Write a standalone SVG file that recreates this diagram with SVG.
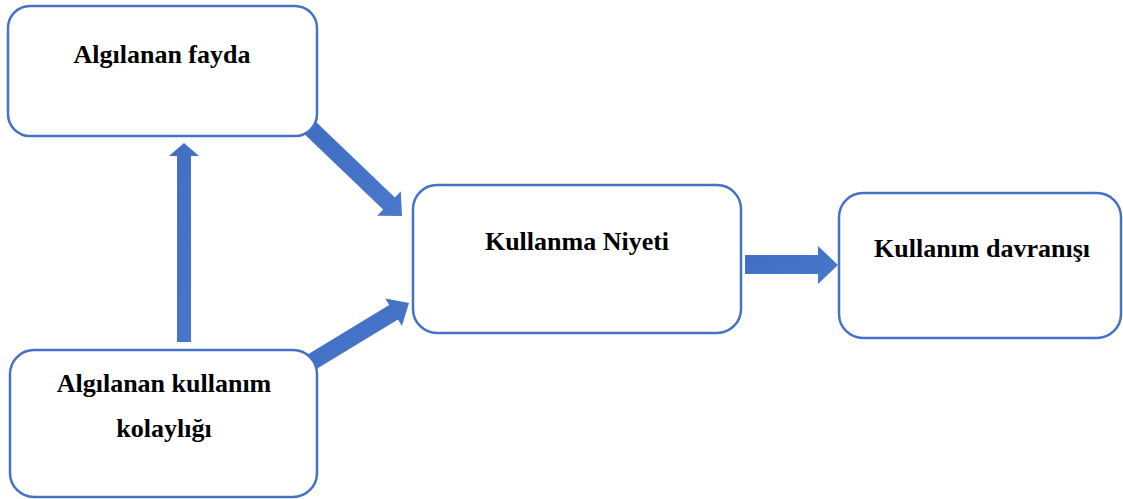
<svg xmlns="http://www.w3.org/2000/svg" width="1123" height="499" viewBox="0 0 1123 499">
  <style>
    .box { fill: #ffffff; stroke: #4472C4; stroke-width: 2.5; }
    .lbl { font-family: 'Liberation Serif', 'DejaVu Serif', serif; font-weight: 700; font-size: 26px; fill: #000000; text-anchor: middle; }
    .arrow { fill: url(#arrowFill); }
  </style>
  <defs>
    <linearGradient id="arrowFill" x1="0" y1="0" x2="1" y2="1">
      <stop offset="0" stop-color="#3F6DC2"/>
      <stop offset="1" stop-color="#4A78CC"/>
    </linearGradient>
  </defs>
  <rect width="1123" height="499" fill="#ffffff"/>

  <!-- block arrows between the constructs -->
  <g id="connectors">
    <!-- perceived usefulness -> intention -->
    <polygon class="arrow" points="311.9,117.9 394.9,197.4 400.8,191.2 402,216 377.2,215.8 383.1,209.6 300.1,130.1"/>
    <!-- ease of use -> intention -->
    <polygon class="arrow" points="305.6,355.7 389.2,305.0 385.3,298.6 409,303 401.9,326.0 398.0,319.6 314.4,370.3"/>
    <!-- ease of use -> usefulness -->
    <polygon class="arrow" points="177,342 177,156 169,156 184,143 199,156 191,156 191,342"/>
    <!-- intention -> behaviour -->
    <polygon class="arrow" points="745,255 818,255 818,246 838,265 818,284 818,274 745,274"/>
  </g>

  <g id="node-fayda">
    <rect class="box" x="8" y="6" width="309" height="130" rx="22" ry="22"/>
    <text class="lbl" x="162" y="63" font-family="Liberation Serif, serif">Algılanan fayda</text>
  </g>

  <g id="node-niyet">
    <rect class="box" x="413" y="185" width="328" height="148" rx="24" ry="24"/>
    <text class="lbl" x="577" y="250">Kullanma Niyeti</text>
  </g>

  <g id="node-davranis">
    <rect class="box" x="839" y="193" width="282" height="145" rx="24" ry="24"/>
    <text class="lbl" x="982" y="257">Kullanım davranışı</text>
  </g>

  <g id="node-kolaylik">
    <rect class="box" x="10" y="350" width="307" height="147" rx="24" ry="24"/>
    <text class="lbl" x="164" y="392">Algılanan kullanım</text>
    <text class="lbl" x="164" y="437">kolaylığı</text>
  </g>
</svg>
